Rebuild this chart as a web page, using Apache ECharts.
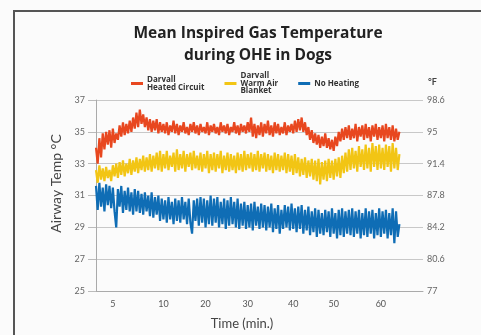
<!DOCTYPE html>
<html><head><meta charset="utf-8">
<script src="https://cdn.jsdelivr.net/npm/echarts@6/dist/echarts.min.js"></script>
<style>html,body{margin:0;padding:0;background:#fbfbfb;}#c{width:481px;height:335px;}</style>
</head><body><div id="c"></div>
<script>
var seriesNames = ['Darvall\nHeated Circuit', 'Darvall\nWarm Air\nBlanket', 'No Heating'];
var xTickLabels = ['5', '10', '20', '30', '40', '50', '60'];
var xTickSamples = [10, 40, 65, 90, 117, 141, 169];
var yTicksC = [25, 27, 29, 31, 33, 35, 37];
var yTicksF = ['77', '80.6', '84.2', '87.8', '91.4', '95', '98.6'];

var heated = [
34.0,33.0,34.6,33.4,34.9,33.9,35.0,34.2,35.1,34.0,
35.2,34.3,34.9,34.5,35.4,34.7,35.6,34.8,35.5,34.9,
35.7,35.0,35.9,35.2,36.2,35.3,36.4,35.5,36.1,35.3,
35.9,35.1,35.8,35.0,35.7,35.1,35.8,34.9,35.6,35.0,
35.5,34.9,35.6,34.8,35.4,35.0,35.7,34.9,35.5,34.8,
35.4,35.0,35.6,34.9,35.3,34.8,35.5,35.0,35.6,34.9,
35.4,34.8,35.5,35.0,35.3,34.9,35.6,34.8,35.4,35.0,
35.5,34.9,35.3,34.8,35.6,35.0,35.4,34.9,35.5,34.8,
35.3,35.0,35.6,34.9,35.4,34.8,35.5,35.0,35.4,34.9,
35.6,35.0,35.9,34.7,35.5,34.6,35.4,34.8,35.6,34.7,
35.5,34.9,35.7,34.8,35.4,34.7,35.6,34.9,35.5,34.8,
35.3,34.9,35.6,34.8,35.4,35.0,35.5,34.9,35.7,35.0,
35.8,35.1,35.9,35.0,35.6,34.8,35.3,34.5,35.1,34.3,
34.9,34.2,34.8,34.0,34.7,34.1,34.9,34.0,34.6,33.9,
34.5,33.8,34.7,34.1,35.0,34.4,35.2,34.5,35.3,34.6,
35.4,34.5,35.2,34.6,35.5,34.4,35.3,34.7,35.4,34.5,
35.5,34.6,35.3,34.4,35.4,34.7,35.5,34.5,35.3,34.6,
35.4,34.4,35.5,34.6,35.3,34.5,35.4,34.4,35.2,34.5,
35.0];
var blanket = [
32.6,31.8,32.9,32.0,32.7,31.9,32.8,32.1,32.6,31.9,
32.9,32.2,33.0,32.1,33.1,32.3,33.2,32.2,33.0,32.4,
33.3,32.3,33.2,32.5,33.4,32.4,33.3,32.6,33.5,32.5,
33.4,32.6,33.6,32.5,33.5,32.7,33.7,32.6,33.8,32.5,
33.6,32.7,33.8,32.6,33.5,32.8,33.7,32.5,33.9,32.6,
33.6,32.7,33.8,32.5,33.6,32.8,33.7,32.6,33.8,32.7,
33.5,32.6,33.7,32.5,33.6,32.7,33.8,32.4,33.6,32.6,
33.7,32.5,33.6,32.7,33.8,32.4,33.5,32.6,33.7,32.5,
33.6,32.6,33.5,32.4,33.7,32.6,33.6,32.5,33.8,32.6,
33.6,32.7,33.7,32.5,33.6,32.6,33.8,32.5,33.6,32.7,
33.7,32.5,33.6,32.6,33.5,32.4,33.7,32.6,33.6,32.5,
33.5,32.6,33.7,32.4,33.6,32.5,33.5,32.3,33.6,32.4,
33.4,32.2,33.3,32.3,33.4,32.1,33.2,32.2,33.3,32.0,
33.2,31.9,33.3,31.7,33.1,32.0,33.2,31.9,33.3,32.1,
33.2,32.0,33.3,32.2,33.4,32.1,33.5,32.4,33.7,32.5,
33.9,32.6,34.0,32.7,33.8,32.5,34.1,32.8,33.9,32.6,
34.2,32.7,34.0,32.5,34.3,32.8,34.1,32.6,34.2,32.7,
34.0,32.6,34.2,32.8,34.1,32.5,34.3,32.7,34.0,32.6,
33.6];
var noHeating = [
31.6,30.1,31.8,30.3,31.5,30.0,31.7,30.4,31.6,30.2,
31.5,30.0,29.0,31.4,30.3,31.6,29.9,31.3,30.1,31.5,
30.0,31.2,29.8,31.4,30.0,31.3,29.9,31.1,29.8,31.2,
30.0,31.0,29.7,31.2,29.6,30.9,29.8,31.0,29.4,30.8,
29.5,30.7,29.3,30.9,29.5,30.6,29.2,30.8,29.4,30.7,
29.3,30.9,29.5,30.6,29.2,30.8,29.3,28.6,30.7,29.4,
30.8,29.1,30.9,29.3,30.8,29.0,30.7,29.2,31.0,29.1,
30.8,29.3,30.9,29.0,30.6,29.2,30.8,28.9,30.7,29.1,
30.9,29.2,30.6,29.0,30.8,28.9,30.5,29.1,30.6,28.9,
30.4,29.0,30.5,28.8,30.6,29.1,30.3,28.9,30.5,29.0,
30.4,28.8,30.3,29.0,30.5,28.7,30.2,28.9,30.4,28.6,
30.1,28.9,30.4,29.0,30.3,28.8,30.5,28.9,30.2,28.7,
30.3,28.9,30.4,28.6,30.1,28.8,30.3,28.5,30.0,28.7,
30.2,28.4,30.1,28.6,29.9,28.5,30.1,28.7,30.0,28.4,
30.2,28.6,29.9,28.3,30.1,28.5,30.2,28.4,30.0,28.6,
30.1,28.5,30.2,28.4,30.0,28.6,30.1,28.3,29.9,28.5,
30.2,28.4,30.0,28.6,30.1,28.3,29.9,28.5,30.2,28.4,
30.0,28.6,30.1,28.3,29.9,28.5,30.2,28.0,30.0,28.4,
29.2];

function indexed(arr) { return arr.map(function (v, i) { return [i, v]; }); }

var colors = ['#e8471f', '#f2c514', '#0f6db5'];
var chart = echarts.init(document.getElementById('c'), null, {renderer: 'canvas'});
var font = 'Lato, "Open Sans", sans-serif';
chart.setOption({
  animation: false,
  backgroundColor: '#fbfbfb',
  color: colors,
  title: {
    text: 'Mean Inspired Gas Temperature\nduring OHE in Dogs',
    left: 253, top: 18, textAlign: 'center',
    textStyle: {fontFamily: '"Open Sans", sans-serif', fontWeight: 'bold', fontSize: 15.5, lineHeight: 22, color: '#222'}
  },
  legend: {
    data: seriesNames.slice(),
    left: 126, top: 67,
    itemWidth: 12, itemHeight: 3, itemGap: 20,
    icon: 'rect',
    textStyle: {fontFamily: '"Open Sans", sans-serif', fontWeight: 'bold', fontSize: 8, lineHeight: 7.5, color: '#333', padding: [0,0,0,-1]}
  },
  grid: {left: 96, right: 58, top: 100, bottom: 44},
  xAxis: {
    type: 'value', min: 0, max: 194,
    name: 'Time (min.)', nameLocation: 'middle', nameGap: 26,
    nameTextStyle: {fontFamily: font, fontSize: 13, color: '#444', padding: [0, 35, 0, 0]},
    axisLine: {lineStyle: {color: '#aaa'}},
    axisTick: {show: false},
    splitLine: {show: false},
    axisLabel: {
      customValues: xTickSamples,
      margin: 9,
      fontFamily: font, fontSize: 9, color: '#555',
      formatter: function (v) { var i = xTickSamples.indexOf(Math.round(v)); return i >= 0 ? xTickLabels[i] : ''; }
    }
  },
  yAxis: [{
    type: 'value', min: 25, max: 37, interval: 2,
    name: 'Airway Temp °C', nameLocation: 'middle', nameGap: 32,
    nameTextStyle: {fontFamily: font, fontSize: 14, color: '#444', padding: [0, 0, 0, 24]},
    axisLine: {show: true, lineStyle: {color: '#aaa'}},
    axisTick: {show: true, length: 8, lineStyle: {color: '#bbb'}},
    splitLine: {lineStyle: {color: '#c8c8c8'}},
    axisLabel: {margin: 11, fontFamily: font, fontSize: 9, color: '#666',
      formatter: function (v) { return String(v); }}
  }, {
    type: 'value', min: 25, max: 37, interval: 2, position: 'right',
    axisLine: {show: false}, axisTick: {show: false}, splitLine: {show: false},
    axisLabel: {margin: 4, fontFamily: font, fontSize: 9, color: '#666',
      formatter: function (v) { var i = yTicksC.indexOf(Math.round(v)); return i >= 0 ? yTicksF[i] : ''; }}
  }],
  graphic: [
    {type: 'line', shape: {x1: 14, y1: 11, x2: 14, y2: 335}, style: {stroke: '#555', lineWidth: 2}},
    {type: 'line', shape: {x1: 13, y1: 11, x2: 481, y2: 11}, style: {stroke: '#555', lineWidth: 2}},
    {type: 'text', left: 428, top: 78, style: {text: '°F', font: 'bold 9px Lato, sans-serif', fill: '#444'}}
  ],
  series: [
    {name: seriesNames[0], type: 'line', data: indexed(heated), showSymbol: false, symbol: 'none', lineStyle: {width: 2.2}, z: 3},
    {name: seriesNames[1], type: 'line', data: indexed(blanket), showSymbol: false, symbol: 'none', lineStyle: {width: 2.2}, z: 2},
    {name: seriesNames[2], type: 'line', data: indexed(noHeating), showSymbol: false, symbol: 'none', lineStyle: {width: 2.2}, z: 1}
  ]
});
</script></body></html>
